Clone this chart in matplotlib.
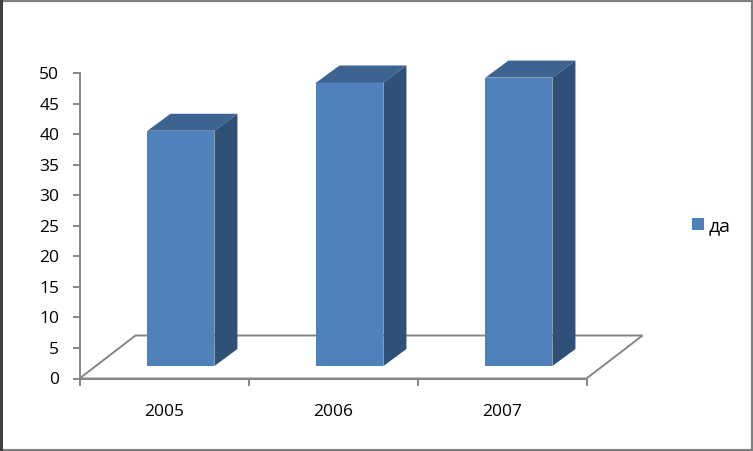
import matplotlib
matplotlib.use('Agg')
import matplotlib.pyplot as plt
from matplotlib.patches import Polygon, Rectangle

years = ['2005', '2006', '2007']
values = [38.5, 46.4, 47.2]
series_name = 'да'
yticks = [0, 5, 10, 15, 20, 25, 30, 35, 40, 45, 50]

plt.rcParams['font.family'] = ['Open Sans', 'DejaVu Sans']

W, H = 753, 451
fig = plt.figure(figsize=(W / 100, H / 100), dpi=100)
fig.patch.set_facecolor('white')

# plot box in pixels, the floor and bar depth stick out of it
ax = fig.add_axes([79.5 / W, 1 - 378.5 / H, 507 / W, 305.5 / H])
ax.set_xlim(0, 3)
ax.set_ylim(0, 50)
ax.patch.set_visible(False)

xscale = 507 / 3.0
yscale = 305.5 / 50.0

gray = '#868686'
front = '#4F81BD'
topc = '#3D6390'
side = '#2F5177'

# floor
fdx = 56 / xscale
fdy = 43 / yscale
ax.add_patch(Polygon([(0, 0), (fdx, fdy), (3 + fdx, fdy), (3, 0)], closed=True,
                     facecolor='white', edgecolor=gray, linewidth=1.4,
                     clip_on=False, zorder=1))

# bars
bar_w = 67 / xscale
base = 12.5 / yscale
ddx = 23 / xscale
ddy = 17 / yscale
for i, v in enumerate(values):
    x0 = i + 0.402
    x1 = x0 + bar_w
    y0 = base
    y1 = base + v
    ax.add_patch(Rectangle((x0, y0), bar_w, v, facecolor=front, edgecolor='none',
                           clip_on=False, zorder=3, label=series_name if i == 0 else None))
    ax.add_patch(Polygon([(x0, y1), (x0 + ddx, y1 + ddy), (x1 + ddx, y1 + ddy), (x1, y1)],
                         closed=True, facecolor=topc, edgecolor='none', clip_on=False, zorder=3))
    ax.add_patch(Polygon([(x1, y0), (x1 + ddx, y0 + ddy), (x1 + ddx, y1 + ddy), (x1, y1)],
                         closed=True, facecolor=side, edgecolor='none', clip_on=False, zorder=3))

for s in ['top', 'right']:
    ax.spines[s].set_visible(False)
for s in ['left', 'bottom']:
    ax.spines[s].set_color(gray)
    ax.spines[s].set_linewidth(1.4)

ax.set_yticks(yticks)
ax.set_xticks([0, 1, 2, 3])
ax.set_xticklabels([])
ax.set_xticks([0.5, 1.5, 2.5], minor=True)
ax.set_xticklabels(years, minor=True)
ax.tick_params(axis='y', length=5, width=1.4, color=gray, labelsize=12.5, labelcolor='black', pad=9.5)
ax.tick_params(axis='x', which='major', length=5, width=1.4, color=gray)
ax.tick_params(axis='x', which='minor', length=0, labelsize=12.5, labelcolor='black', pad=18)

ax.legend(loc='center left', bbox_to_anchor=(692 / W, 1 - 226 / H),
          bbox_transform=fig.transFigure, frameon=False, fontsize=14,
          handlelength=0.62, handleheight=0.62, handletextpad=0.25, borderpad=0, borderaxespad=0)

# picture frame
fig.add_artist(Rectangle((0, 0), 1, 1, transform=fig.transFigure, fill=False,
                         edgecolor='#7F7F7F', linewidth=3))
fig.add_artist(Rectangle((0, 0), 2.5 / W, 1, transform=fig.transFigure,
                         facecolor='#404040', edgecolor='none'))

plt.savefig('out.png', dpi=100)
